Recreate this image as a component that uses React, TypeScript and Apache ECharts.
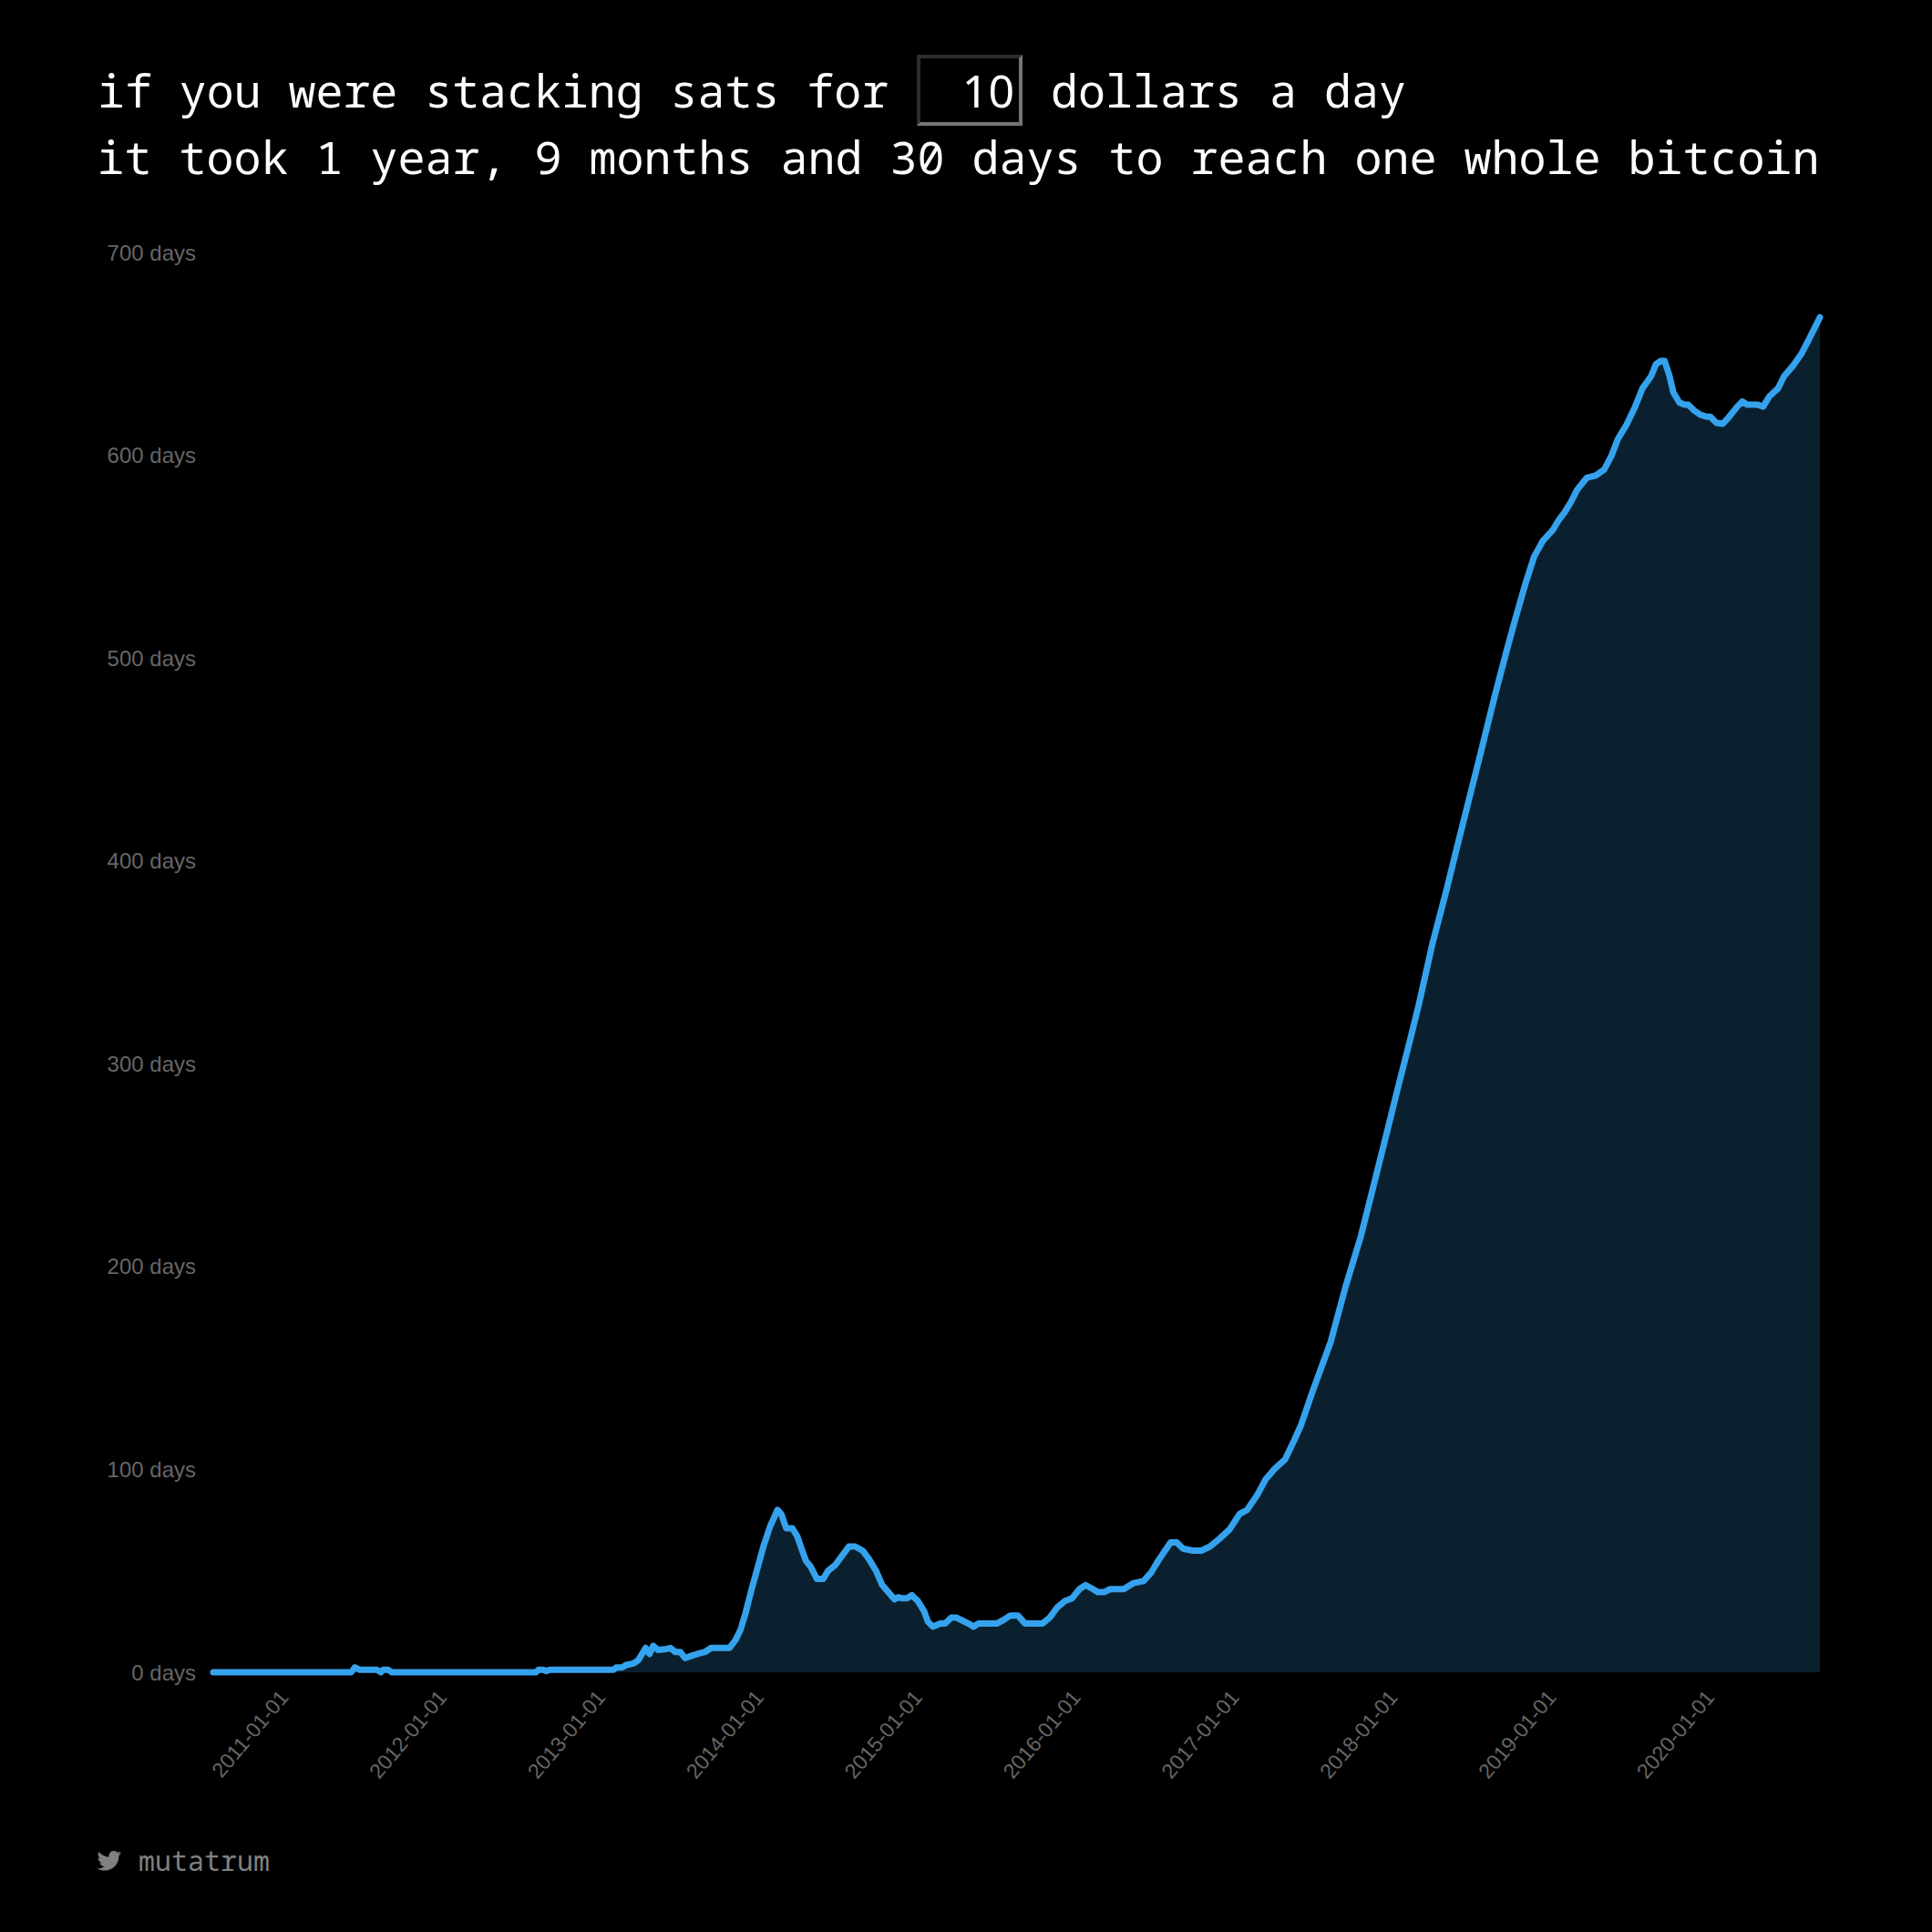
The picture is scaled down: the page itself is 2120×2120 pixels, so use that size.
import React, { useEffect, useRef } from "react";
import * as echarts from "echarts";

const TWITTER =
  "M459.37 151.716c.325 4.548.325 9.097.325 13.645 0 138.72-105.583 298.558-298.558 298.558-59.452 0-114.68-17.219-161.137-47.106 8.447.974 16.568 1.299 25.34 1.299 49.055 0 94.213-16.568 130.274-44.832-46.132-.975-84.792-31.188-98.112-72.772 6.498.974 12.995 1.624 19.818 1.624 9.421 0 18.843-1.3 27.614-3.573-48.081-9.747-84.143-51.98-84.143-102.985v-1.299c13.969 7.797 30.214 12.67 47.431 13.319-28.264-18.843-46.781-51.005-46.781-87.391 0-19.492 5.197-37.36 14.294-52.954 51.655 63.675 129.3 105.258 216.365 109.807-1.624-7.797-2.599-15.918-2.599-24.04 0-57.828 46.782-104.934 104.934-104.934 30.213 0 57.502 12.67 76.67 33.137 23.715-4.548 46.456-13.32 66.599-25.34-7.798 23.715-24.366 44.833-46.132 57.502 21.117-2.273 41.584-8.122 60.426-16.243-14.292 20.791-32.161 39.308-52.628 54.253z";
echarts.graphic.registerShape("twitterBird", (echarts.graphic as any).extendPath(TWITTER, {}));

const years = [
  2010.539, 2011.41, 2011.433, 2011.464, 2011.573, 2011.597, 2011.612, 2011.643, 2011.667, 2012.576,
  2012.592, 2012.623, 2012.639, 2012.662, 2013.066, 2013.082, 2013.121, 2013.144, 2013.191, 2013.222,
  2013.245, 2013.268, 2013.292, 2013.315, 2013.346, 2013.401, 2013.424, 2013.455, 2013.486, 2013.517,
  2013.572, 2013.595, 2013.642, 2013.681, 2013.797, 2013.836, 2013.867, 2013.898, 2013.937, 2013.976,
  2014.015, 2014.054, 2014.1, 2014.124, 2014.155, 2014.194, 2014.225, 2014.256, 2014.279, 2014.31,
  2014.349, 2014.388, 2014.419, 2014.466, 2014.513, 2014.551, 2014.59, 2014.637, 2014.676, 2014.722,
  2014.761, 2014.8, 2014.839, 2014.862, 2014.886, 2014.917, 2014.948, 2014.987, 2015.026, 2015.049,
  2015.08, 2015.127, 2015.158, 2015.197, 2015.228, 2015.267, 2015.306, 2015.337, 2015.368, 2015.484,
  2015.531, 2015.57, 2015.617, 2015.663, 2015.772, 2015.819, 2015.866, 2015.912, 2015.959, 2016.006,
  2016.044, 2016.091, 2016.122, 2016.161, 2016.2, 2016.285, 2016.348, 2016.41, 2016.457, 2016.503,
  2016.581, 2016.62, 2016.659, 2016.721, 2016.775, 2016.83, 2016.892, 2016.954, 2017.016, 2017.063,
  2017.125, 2017.18, 2017.234, 2017.304, 2017.359, 2017.405, 2017.475, 2017.592, 2017.685, 2017.782,
  2017.856, 2017.936, 2018.012, 2018.09, 2018.147, 2018.233, 2018.32, 2018.396, 2018.473, 2018.55,
  2018.626, 2018.703, 2018.761, 2018.818, 2018.875, 2018.932, 2018.992, 2019.03, 2019.069, 2019.108,
  2019.147, 2019.209, 2019.264, 2019.318, 2019.365, 2019.404, 2019.458, 2019.513, 2019.559, 2019.614,
  2019.645, 2019.676, 2019.699, 2019.73, 2019.754, 2019.792, 2019.824, 2019.847, 2019.886, 2019.925,
  2019.964, 2019.987, 2020.026, 2020.065, 2020.096, 2020.158, 2020.189, 2020.22, 2020.282, 2020.321,
  2020.36, 2020.415, 2020.453, 2020.508, 2020.562, 2020.609, 2020.679,
];

const days = [
  0, 0, 2.4, 1.2, 1.2, 0, 1.2, 1.2, 0, 0,
  1.2, 1.2, 0.6, 1.2, 1.2, 2.4, 2.4, 3.6, 4.3, 6,
  9, 12, 9, 13, 11, 11.5, 12, 10, 10, 7,
  8.5, 9, 10, 12, 12, 16, 21, 29, 41, 52,
  63, 72, 80, 78, 71, 71, 67, 60, 55, 52,
  46, 46, 50, 53, 58, 62, 62, 60, 56, 50,
  43, 39.5, 36, 37, 36.5, 36.5, 38, 35, 30, 25,
  22.5, 24, 24, 27, 27, 25.5, 24, 22.5, 24, 24,
  26, 28, 28, 24, 24, 27, 32, 35, 36.5, 41,
  43, 41, 39.5, 39.5, 41, 41, 44, 45, 49, 55,
  64, 64, 61, 60, 60, 62, 66, 70.5, 78, 80,
  87, 95, 100, 105, 114, 122, 138, 163, 190, 215,
  238, 263, 287, 311, 329, 359, 385, 409, 433, 457,
  481, 504, 520.5, 536, 550, 558, 563, 568, 572, 577,
  583, 589, 590, 593, 600, 608, 615, 624, 633, 639,
  645, 646.5, 646.5, 639, 631, 626, 625, 625, 622, 620,
  619, 619, 616, 615.5, 618, 624, 626.5, 625, 625, 624,
  629, 633, 639, 644, 650, 657, 668,
];

const yearTicks = [2011, 2012, 2013, 2014, 2015, 2016, 2017, 2018, 2019, 2020];
const titleStart = "if you were stacking sats for";
const titleInput = "10";
const titleEnd = "dollars a day";
const titleLine2 = "it took 1 year, 9 months and 30 days to reach one whole bitcoin";
const footer = "mutatrum";

const MONO = '"Noto Sans Mono", "Droid Sans Mono", "DejaVu Sans Mono", monospace';

export default function App() {
  const ref = useRef<HTMLDivElement>(null);
  useEffect(() => {
    document.body.style.margin = "0";
    document.body.style.background = "#000";
    const chart = echarts.init(ref.current!, undefined, { renderer: "svg" });
    const titleStyle = { fill: "#fff", font: `50px ${MONO}`, textVerticalAlign: "middle" };
    chart.setOption({
      animation: false,
      backgroundColor: "#000",
      grid: { left: 234, right: 123, top: 277, bottom: 285, containLabel: false },
      xAxis: {
        type: "value",
        min: years[0],
        max: years[years.length - 1],
        axisLine: { show: false },
        axisTick: { show: false },
        splitLine: { show: false },
        axisLabel: {
          customValues: yearTicks,
          formatter: (v: number) => `${v}-01-01`,
          rotate: 50,
          margin: 20,
          padding: [0, 4, 0, 0],
          color: "#666",
          fontFamily: '"Liberation Sans", Arial, sans-serif',
          fontSize: 23,
          hideOverlap: false,
        },
      },
      yAxis: {
        type: "value",
        min: 0,
        max: 700,
        interval: 100,
        axisLine: { show: false },
        axisTick: { show: false },
        splitLine: { show: false },
        axisLabel: {
          formatter: "{value} days",
          margin: 19,
          padding: [0, 0, 3, 0],
          color: "#666",
          fontFamily: '"Liberation Sans", Arial, sans-serif',
          fontSize: 24,
        },
      },
      series: [
        {
          type: "line",
          data: years.map((y, i) => [y, days[i]]),
          symbol: "none",
          clip: false,
          lineStyle: { color: "#35a2ee", width: 7, join: "round", cap: "round" },
          areaStyle: { color: "#0b202e", opacity: 1 },
        },
      ],
      graphic: [
        { type: "text", x: 107, y: 98.5, style: { ...titleStyle, font: `49.9px ${MONO}`, text: titleStart } },
        { type: "rect", shape: { x: 1006, y: 60, width: 116, height: 78 }, style: { fill: "#2e2e2e" } },
        { type: "polygon", shape: { points: [[1122, 60], [1122, 138], [1006, 138], [1010, 134], [1118, 134], [1118, 64]] }, style: { fill: "#767676" } },
        { type: "rect", shape: { x: 1010, y: 64, width: 108, height: 70 }, style: { fill: "#000" } },
        { type: "text", x: 1113, y: 98.5, style: { fill: "#fff", font: '50px "Noto Sans", sans-serif', textVerticalAlign: "middle", text: titleInput, textAlign: "right" } },
        { type: "text", x: 1153, y: 98.5, style: { ...titleStyle, text: titleEnd } },
        { type: "text", x: 106.5, y: 171.5, style: { ...titleStyle, text: titleLine2 } },
        { type: "twitterBird", x: 106.5, y: 2028.5, scaleX: 0.052, scaleY: 0.052, style: { fill: "#808080" } },
        { type: "text", x: 152, y: 2041, style: { fill: "#808080", font: `30px ${MONO}`, textVerticalAlign: "middle", text: footer } },
      ],
    });
    return () => chart.dispose();
  }, []);
  return <div ref={ref} style={{ width: 2120, height: 2120 }} />;
}
